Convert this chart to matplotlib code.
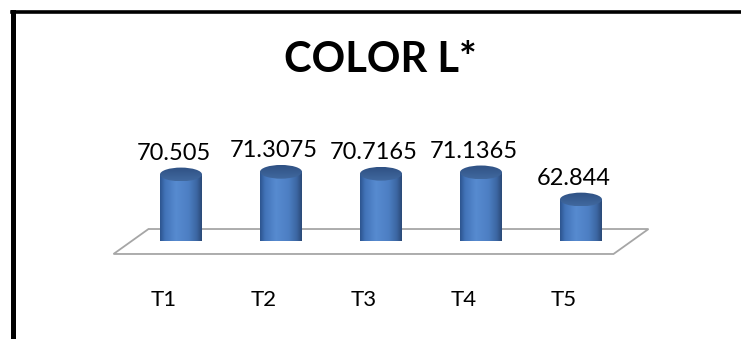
import numpy as np
import matplotlib.pyplot as plt
from matplotlib.patches import Ellipse, Polygon
from matplotlib.colors import LinearSegmentedColormap
from matplotlib.lines import Line2D

plt.rcParams['font.family'] = ['Lato', 'DejaVu Sans']

categories = ['T1', 'T2', 'T3', 'T4', 'T5']
values = [70.505, 71.3075, 70.7165, 71.1365, 62.844]
value_labels = ['70.505', '71.3075', '70.7165', '71.1365', '62.844']
title = 'COLOR L*'

W, H = 741, 339
y_min, y_max = 50, 80

fig = plt.figure(figsize=(W / 100, H / 100), dpi=100)
fig.patch.set_facecolor('white')
ax = fig.add_axes([131 / W, (H - 241.5) / H, 500 / W, 98.1 / H])
ax.axis('off')

# depth offset of the 3D floor (half depth) in data units
dx, dy = 0.175, 3.82
r, eh = 0.21, 2.1  # cylinder radius, half height of the end ellipses

body_cmap = LinearSegmentedColormap.from_list('body', [
    (0.0, '#2c548e'), (0.12, '#4273b8'), (0.38, '#578bd0'),
    (0.68, '#4d7fc3'), (0.88, '#3c66a2'), (1.0, '#2a4876')])
top_cmap = LinearSegmentedColormap.from_list('top', [
    (0.0, '#41699f'), (1.0, '#2f5184')])

# floor
n = len(categories)
floor = Polygon([(-0.5 - dx, y_min - dy), (n - 0.5 - dx, y_min - dy),
                 (n - 0.5 + dx, y_min + dy), (-0.5 + dx, y_min + dy)],
                closed=True, facecolor='white', edgecolor='#a6a6a6',
                lw=1.3, clip_on=False, zorder=1)
ax.add_patch(floor)

grad_h = np.linspace(0, 1, 256).reshape(1, -1)
grad_v = np.linspace(0, 1, 64).reshape(-1, 1)

for i, v in enumerate(values):
    t = np.linspace(np.pi, 2 * np.pi, 60)
    verts = [(i - r, v)] + list(zip(i + r * np.cos(t), y_min + eh * np.sin(t))) + [(i + r, v)]
    body = Polygon(verts, closed=True, facecolor='none', edgecolor='none', clip_on=False)
    ax.add_patch(body)
    im = ax.imshow(grad_h, cmap=body_cmap, extent=(i - r, i + r, y_min - eh, v),
                   aspect='auto', origin='lower', interpolation='bicubic', zorder=2)
    im.set_clip_path(body)

    top = Ellipse((i, v), 2 * r, 2 * eh, facecolor='none', edgecolor='none', clip_on=False)
    ax.add_patch(top)
    im2 = ax.imshow(grad_v, cmap=top_cmap, extent=(i - r, i + r, v - eh, v + eh),
                    aspect='auto', origin='lower', interpolation='bicubic', zorder=3)
    im2.set_clip_path(top)

    ax.annotate(value_labels[i], (i, v), xytext=(-7, 14.5), textcoords='offset pixels',
                ha='center', va='baseline', fontsize=17, color='black',
                annotation_clip=False)
    ax.annotate(categories[i], (i, y_min), xytext=(-17, -64.5), textcoords='offset pixels',
                ha='center', va='baseline', fontsize=16, color='black',
                annotation_clip=False)

ax.set_xlim(-0.5, n - 0.5)
ax.set_ylim(y_min, y_max)

fig.text(380 / W, 1 - 72 / H, title, ha='center', va='baseline',
         fontsize=30, fontweight='bold')

# chart frame (left and top edges)
fig.add_artist(Line2D([13.5 / W, 13.5 / W], [0, 1 - 11.7 / H], lw=3.6,
                      color='black', transform=fig.transFigure))
fig.add_artist(Line2D([11.7 / W, 1], [1 - 11.7 / H, 1 - 11.7 / H], lw=2.6,
                      color='black', transform=fig.transFigure))

fig.savefig('out.png', dpi=100)
